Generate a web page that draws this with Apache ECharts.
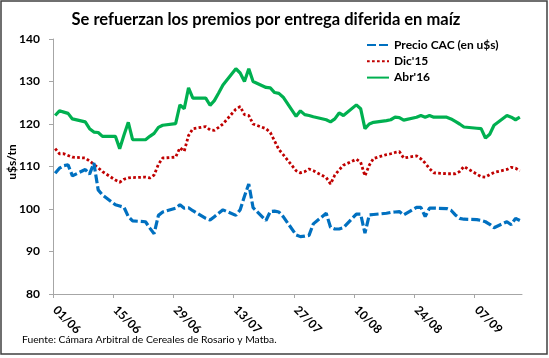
<!DOCTYPE html>
<html><head><meta charset="utf-8">
<script src="https://cdn.jsdelivr.net/npm/echarts@6/dist/echarts.min.js"></script>
<style>html,body{margin:0;padding:0;background:#fff}#c{width:549px;height:358px}</style>
</head><body><div id="c"></div>
<script>
const titleText = "Se refuerzan los premios por entrega diferida en maíz";
const sourceText = "Fuente: Cámara Arbitral de Cereales de Rosario y Matba.";
const yAxisName = "u$s/tn";
const seriesNames = ["Precio CAC (en u$s)", "Dic'15", "Abr'16"];
const xTickLabels = ["01/06","15/06","29/06","13/07","27/07","10/08","24/08","07/09"];
const yTicks = [80, 90, 100, 110, 120, 130, 140];
const dates = [
 "2015-06-01","2015-06-02","2015-06-03","2015-06-04","2015-06-05",
 "2015-06-08","2015-06-09","2015-06-10","2015-06-11","2015-06-12",
 "2015-06-15","2015-06-16","2015-06-17","2015-06-18","2015-06-19",
 "2015-06-22","2015-06-23","2015-06-24","2015-06-25","2015-06-26",
 "2015-06-29","2015-06-30","2015-07-01","2015-07-02","2015-07-03",
 "2015-07-06","2015-07-07","2015-07-08","2015-07-09","2015-07-10",
 "2015-07-13","2015-07-14","2015-07-15","2015-07-16","2015-07-17",
 "2015-07-20","2015-07-21","2015-07-22","2015-07-23","2015-07-24",
 "2015-07-27","2015-07-28","2015-07-29","2015-07-30","2015-07-31",
 "2015-08-03","2015-08-04","2015-08-05","2015-08-06","2015-08-07",
 "2015-08-10","2015-08-11","2015-08-12","2015-08-13","2015-08-14",
 "2015-08-17","2015-08-18","2015-08-19","2015-08-20","2015-08-21",
 "2015-08-24","2015-08-25","2015-08-26","2015-08-27","2015-08-28",
 "2015-08-31","2015-09-01","2015-09-02","2015-09-03","2015-09-04",
 "2015-09-07","2015-09-08","2015-09-09","2015-09-10","2015-09-11",
 "2015-09-14","2015-09-15","2015-09-16","2015-09-17"
];
const precioCAC = [
 108.4,109.6,110.2,110.4,107.8,
 109.3,108.2,110.8,104.5,103.3,
 101,100.7,100.4,98.2,97.2,
 97,95.5,94.2,98.5,99.3,
 100.2,101,100.2,100.3,99.6,
 97.8,97.4,98.2,99,99.8,
 98.5,99.8,103,105.9,100.3,
 97.3,99.4,99.5,99.3,98.2,
 93.9,93.5,93.6,93.8,96.5,
 99,95.7,95.3,95.3,95.6,
 98.8,98.8,94.3,98.6,98.7,
 99,99.2,99.3,99.4,98.6,
 100.4,100.4,98.2,100.2,100.2,
 100.1,99.7,98.6,97.8,97.6,
 97.5,97.3,97,96.4,95.6,
 97,96.3,97.8,97.3
];
const dic15 = [
 114.2,113,113,112.6,112.2,
 112,111.3,110.5,109.7,108.8,
 106.8,106.3,107,107.3,107.4,
 107.5,107.3,108,110.5,112,
 112.2,114.4,113.6,117.3,118.9,
 119.4,118.6,118.5,119.2,120,
 123.5,124.1,122.2,122,120,
 118.9,118,116,114,112.8,
 109,108.5,108.8,109.4,109,
 107.4,105.9,108,109.2,110.3,
 111.7,111,107.8,110.3,111.9,
 112.8,113,113.3,113.5,112,
 112.5,111.8,110.8,109.5,108.5,
 108.3,108.3,108.3,108.8,110,
 108.2,107.6,107.5,108.1,108.6,
 109.3,109.8,109.6,109
];
const abr16 = [
 122,123.1,122.8,122.5,121.2,
 120.5,118.9,118.1,118,117.1,
 117.1,114.2,117.4,120.4,116.3,
 116.3,117.1,117.8,119.2,119.7,
 120.1,124.5,123.6,128.5,126.1,
 126.1,124.4,125.5,127.3,129.2,
 133,132,130,133,130,
 128.6,128.5,127.4,127.2,126.3,
 121.8,123.1,122.2,122,121.7,
 121,120.5,121.2,122.6,122,
 124.5,123.6,118.9,120,120.4,
 120.8,121,121.6,121.5,120.9,
 121.6,122,121.6,122,121.6,
 121.6,121.2,120.6,120,119.3,
 119,118.9,116.7,117.6,119.7,
 122,121.6,121,121.6
];

const DAY = 86400000;
const t0 = Date.UTC(2015, 5, 1);
function dayOf(s){ const p = s.split('-'); return (Date.UTC(+p[0], +p[1]-1, +p[2]) - t0) / DAY; }
const xs = dates.map(d => dayOf(d) + 0.5);
const axisMax = dayOf(dates[dates.length-1]) + 1;
const tickDays = xTickLabels.map((l, i) => i * 14);
const pairs = arr => arr.map((v, i) => [xs[i], v]);

const FONT = 'Lato';
const chart = echarts.init(document.getElementById('c'), null, {renderer: 'canvas'});
chart.setOption({
  animation: false,
  backgroundColor: '#fff',
  textStyle: {fontFamily: FONT},
  title: {
    text: titleText, left: 261, top: 6, textAlign: 'center',
    textStyle: {fontFamily: FONT, fontSize: 16.5, fontWeight: 'bold', color: '#000'}
  },
  graphic: [
    {id: 'frame', type: 'rect', shape: {x: 1, y: 1, width: 546, height: 353}, style: {fill: 'none', stroke: '#404040', lineWidth: 1.5}, silent: true},
    {id: 'src', type: 'text', left: 22, top: 335, style: {text: sourceText, font: '10.3px Lato', fill: '#000'}},
    {id: 'yname', type: 'text', x: 12, y: 162, rotation: Math.PI / 2,
     style: {text: yAxisName, font: 'bold 12px Lato', fill: '#000', align: 'center', verticalAlign: 'middle'}}
  ],
  legend: {
    orient: 'vertical', left: 366, top: 39, padding: 0, itemWidth: 22, itemHeight: 12, itemGap: 4.3,
    data: seriesNames,
    itemStyle: {opacity: 0},
    textStyle: {fontFamily: FONT, fontSize: 12, fontWeight: 'bold', color: '#000'}
  },
  grid: {left: 53, right: 27, top: 39, bottom: 64, containLabel: false, outerBoundsMode: 'none'},
  xAxis: {
    type: 'value', min: 0, max: axisMax, interval: 14,
    splitLine: {show: false},
    axisLine: {lineStyle: {color: '#a6a6a6', width: 1}},
    axisTick: {show: true, length: 4, lineStyle: {color: '#a6a6a6'}, customValues: tickDays},
    axisLabel: {show: false}
  },
  yAxis: {
    type: 'value', min: yTicks[0], max: yTicks[yTicks.length-1], interval: 10,
    splitLine: {show: false},
    axisLine: {show: true, lineStyle: {color: '#a6a6a6', width: 1}},
    axisTick: {show: true, length: 4, lineStyle: {color: '#a6a6a6'}},
    axisLabel: {margin: 13, fontFamily: FONT, fontSize: 12, fontWeight: 'bold', color: '#000'}
  },
  series: [
    {name: seriesNames[0], type: 'line', data: pairs(precioCAC), symbol: 'none', z: 3,
     lineStyle: {color: '#0070C0', width: 3.2, type: [9, 3]}, itemStyle: {color: '#0070C0'}},
    {name: seriesNames[1], type: 'line', data: pairs(dic15), symbol: 'none', z: 2,
     lineStyle: {color: '#C00000', width: 2.8, type: [2.7, 2.3]}, itemStyle: {color: '#C00000'}},
    {name: seriesNames[2], type: 'line', data: pairs(abr16), symbol: 'none', z: 1,
     lineStyle: {color: '#00B050', width: 3.2}, itemStyle: {color: '#00B050'}}
  ]
});
// rotated x-axis tick labels, positioned through the axis scale
const labelEls = tickDays.map((d, i) => {
  const p = chart.convertToPixel({gridIndex: 0}, [d, yTicks[0]]);
  return {id: 'xl' + i, type: 'text', x: p[0] + 2, y: p[1] + 14, rotation: -Math.PI / 4,
    style: {text: xTickLabels[i], font: 'bold 12px Lato', fill: '#000', align: 'left', verticalAlign: 'middle'}};
});
chart.setOption({graphic: labelEls});
</script></body></html>
